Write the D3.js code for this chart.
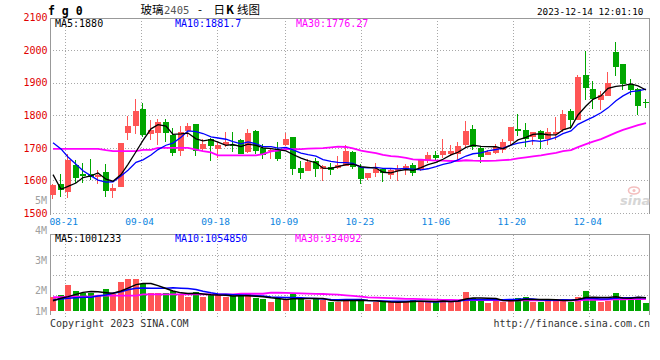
<!DOCTYPE html>
<html><head><meta charset="utf-8">
<script src="https://cdn.jsdelivr.net/npm/d3@7"></script>
<style>body{margin:0;background:#fff}svg{display:block}</style>
</head><body><svg id="c" width="660" height="360"></svg>
<script>
// ---------------- data ----------------
const dates = ["08-17","08-18","08-21","08-22","08-23","08-24","08-25","08-28","08-29","08-30",
"08-31","09-01","09-04","09-05","09-06","09-07","09-08","09-11","09-12","09-13",
"09-14","09-15","09-18","09-19","09-20","09-21","09-22","09-25","09-26","09-27",
"09-28","10-09","10-10","10-11","10-12","10-13","10-16","10-17","10-18","10-19",
"10-20","10-23","10-24","10-25","10-26","10-27","10-30","10-31","11-01","11-02",
"11-03","11-06","11-07","11-08","11-09","11-10","11-13","11-14","11-15","11-16",
"11-17","11-20","11-21","11-22","11-23","11-24","11-27","11-28","11-29","11-30",
"12-01","12-04","12-05","12-06","12-07","12-08","12-11","12-12","12-13","12-14"];
const opens = [1556,1589,1566,1648,1620,1619,1611,1626,1568,1581,
1747,1768,1820,1742,1745,1780,1739,1692,1751,1774,
1696,1726,1698,1708,1710,1723,1687,1752,1700,1692,
1697,1708,1733,1639,1629,1660,1635,1641,1638,1644,
1687,1642,1607,1624,1634,1617,1629,1634,1646,1634,
1660,1677,1678,1680,1680,1708,1757,1700,1678,1685,
1695,1722,1759,1756,1733,1753,1727,1744,1756,1814,
1786,1924,1881,1847,1860,1995,1957,1896,1881,1840];
const highs = [1590,1620,1680,1662,1653,1665,1631,1650,1590,1716,
1798,1851,1839,1786,1789,1789,1760,1766,1776,1774,
1728,1731,1719,1750,1750,1726,1757,1754,1711,1697,
1718,1745,1733,1660,1665,1670,1649,1654,1675,1709,
1690,1652,1624,1654,1638,1634,1649,1652,1654,1665,
1687,1692,1726,1708,1719,1783,1769,1706,1695,1711,
1728,1763,1805,1778,1748,1756,1761,1794,1817,1819,
1924,1998,1905,1875,1934,2026,1957,1911,1883,1850];
const lows = [1543,1550,1547,1591,1591,1600,1590,1549,1546,1580,
1723,1742,1732,1724,1709,1718,1676,1674,1732,1676,
1690,1659,1668,1703,1688,1680,1685,1680,1665,1665,
1660,1706,1618,1605,1629,1611,1598,1618,1634,1644,
1634,1588,1601,1611,1595,1603,1598,1618,1613,1629,
1654,1660,1670,1675,1660,1701,1695,1654,1678,1680,
1684,1710,1738,1702,1708,1698,1710,1725,1749,1759,
1786,1847,1820,1817,1860,1922,1878,1861,1800,1822];
const closes = [1587,1571,1664,1609,1614,1611,1618,1568,1577,1716,
1768,1812,1741,1756,1781,1745,1685,1749,1768,1692,
1713,1706,1709,1718,1706,1680,1745,1690,1678,1695,
1665,1726,1634,1622,1656,1634,1643,1632,1646,1689,
1641,1603,1622,1636,1624,1631,1634,1643,1624,1665,
1677,1668,1692,1690,1706,1751,1704,1672,1687,1704,
1718,1763,1751,1727,1748,1728,1748,1748,1805,1786,
1919,1885,1850,1861,1900,1949,1896,1878,1830,1837];
const volumes = [1100000,1220000,1710000,1410000,1300000,1300000,1150000,1510000,1270000,1850000,
2000000,2000000,1760000,1300000,1320000,1300000,1410000,1290000,1140000,1370000,
1140000,1220000,1220000,1110000,1170000,1170000,1250000,1090000,1010000,890000,
1010000,1010000,1250000,1010000,980000,1010000,980000,860000,890000,1020000,
1020000,1020000,780000,860000,860000,860000,940000,900000,980000,900000,
860000,860000,1020000,900000,980000,1380000,1090000,1010000,840000,940000,
900000,980000,1090000,1140000,900000,900000,980000,1020000,980000,900000,
1140000,1430000,1090000,900000,930000,1300000,1140000,1010000,1140000,810000];
// moving-average values at the start of the window (their history lies before the first bar)
const ma5Head = [1618,1573,1582,1592];
const ma10Head = [1716,1697,1672,1650,1630,1614,1601,1595,1596];
const ma30Head = [1697,1697,1697,1697,1697,1697,1697,1693,1690,1690,1690,1690,1694,1694,1700,1700,1700,1700,1700,1695,1690,1686,1677,1677,1677,1677,1677,1677,1681];
const volMa5Head = [940000,1060000,1140000,1250000];
const volMa10Head = [980000,1020000,1060000,1090000,1110000,1110000,1170000,1220000,1300000];
const volMa30Head = [1110000,1110000,1140000,1140000,1140000,1140000,1190000,1190000,1190000,1190000,1190000,1190000,
1250000,1250000,1250000,1250000,1250000,1250000,1250000,1250000,1250000,1250000,1250000,1250000,1250000,1280000,1280000,1280000,1280000];
const priceTicks = [2100,2000,1900,1800,1700,1600,1500];
const volTicks = [5000000,4000000,3000000,2000000,1000000];
const volTickLabels = ["5M","4M","3M","2M","1M"];
const dateTicks = ["08-21","09-04","09-18","10-09","10-23","11-06","11-20","12-04"];
const priceLegend = ["MA5:1880","MA10:1881.7","MA30:1776.27"];
const volLegend = ["MA5:1001233","MA10:1054850","MA30:934092"];
const legendColors = ["#000000","#0000ff","#ff00ff"];
const titleCode = "f g 0";
const timeStamp = "2023-12-14 12:01:10";

// ---------------- layout ----------------
const N = dates.length;
const L = 50, R = 650;
const mono = "'DejaVu Sans Mono', monospace";
const svg = d3.select("#c");
const UP = "#ff5555", DOWN = "#00a600", GRID = "#a8a8a8", BORDER = "#999";

const x = d3.scaleBand().domain(d3.range(N)).range([L, R]);
const xg = d3.scalePoint().domain(d3.range(N)).range([L, R]);
const bw = Math.round(x.bandwidth() * 0.8);
const bx = i => Math.round(x(i));
const cx = i => bx(i) + bw / 2;

const y = d3.scaleLinear().domain([1500, 2100]).range([213, 17.7]);
const pTop = Math.round(y(2100)), pBot = Math.round(y(1500));

const vTop = 235, vBot = 315, vBase = 311;
const yv = d3.scaleLinear().domain([0, 4000000]).range([320, 238]);
const yLab = d3.scaleLinear().domain([1000000, 5000000]).range([320, 200]);

function movingAvg(vals, n, head) {
  return vals.map((v, i) => i < n - 1 ? head[i] : d3.mean(vals.slice(i - n + 1, i + 1)));
}

// ---------------- header ----------------
svg.append("text").attr("x", 48).attr("y", 14.5).attr("font-family", mono)
  .attr("font-weight", "bold").attr("font-size", 11.5).attr("fill", "#000").text(titleCode);
const title = svg.append("text").attr("y", 14).attr("font-family", "'Noto Sans CJK SC', sans-serif")
  .attr("font-size", 11.5).attr("fill", "#000");
title.append("tspan").attr("x", 140.5).text("玻璃");
title.append("tspan").attr("x", 164).attr("fill", "#555").attr("font-family", mono).attr("font-size", 10.5).text("2405");
title.append("tspan").attr("x", 198).text("-");
title.append("tspan").attr("x", 213.5).text("日");
title.append("tspan").attr("x", 226).attr("font-weight", "bold").text("K");
title.append("tspan").attr("x", 237).text("线图");
svg.append("text").attr("x", 537).attr("y", 15).attr("font-family", mono).attr("font-size", 9.3)
  .attr("fill", "#000").text(timeStamp);

// ---------------- price panel grid ----------------
const g = svg.append("g").attr("shape-rendering", "crispEdges");
priceTicks.slice(1).forEach(t => {
  const yy = Math.round(y(t)) + 0.5;
  g.append("line").attr("x1", L).attr("x2", R - 1).attr("y1", yy).attr("y2", yy)
    .attr("stroke", GRID).attr("stroke-dasharray", "1,2");
});
dateTicks.forEach(d => {
  const xx = Math.round(xg(dates.indexOf(d))) + 0.5;
  g.append("line").attr("x1", xx).attr("x2", xx).attr("y1", pTop).attr("y2", pBot)
    .attr("stroke", GRID).attr("stroke-dasharray", "1,2");
  g.append("line").attr("x1", xx).attr("x2", xx).attr("y1", vTop).attr("y2", 319)
    .attr("stroke", GRID).attr("stroke-dasharray", "1,2");
});
// borders
g.append("line").attr("x1", L).attr("x2", R).attr("y1", pTop + 0.5).attr("y2", pTop + 0.5).attr("stroke", BORDER);
g.append("line").attr("x1", L + 0.5).attr("x2", L + 0.5).attr("y1", pTop).attr("y2", pBot + 2).attr("stroke", BORDER).attr("stroke-width", 1);
g.append("line").attr("x1", R - 0.5).attr("x2", R - 0.5).attr("y1", pTop).attr("y2", pBot + 1).attr("stroke", BORDER);

// price labels
priceTicks.forEach(t => {
  svg.append("text").attr("x", 47.5).attr("y", y(t)).attr("dy", "0.36em").attr("text-anchor", "end")
    .attr("font-family", mono).attr("font-size", 10).attr("fill", "#e00000").text(t);
});
// date labels
dateTicks.forEach(d => {
  svg.append("text").attr("x", xg(dates.indexOf(d)) - 1.5).attr("y", 225).attr("text-anchor", "middle")
    .attr("font-family", mono).attr("font-size", 9.5).attr("fill", "#0a84e0").text(d);
});

// watermark
const wm = svg.append("g").attr("opacity", 0.9);
wm.append("ellipse").attr("cx", 634).attr("cy", 190.5).attr("rx", 5.5).attr("ry", 3.5)
  .attr("fill", "none").attr("stroke", "#f3b8b8").attr("stroke-width", 1.6);
wm.append("circle").attr("cx", 634).attr("cy", 190.5).attr("r", 1.5).attr("fill", "#f3b8b8");
wm.append("text").attr("x", 620).attr("y", 205).attr("font-family", "'DejaVu Sans', sans-serif")
  .attr("font-style", "italic").attr("font-weight", "bold").attr("font-size", 13)
  .attr("fill", "#d2d2d2").text("sina");

// ---------------- candles ----------------
const cg = svg.append("g").attr("shape-rendering", "crispEdges");
d3.range(N).forEach(i => {
  const up = closes[i] >= opens[i];
  const col = up ? UP : DOWN;
  const yT = Math.round(y(Math.max(opens[i], closes[i])));
  const yB = Math.round(y(Math.min(opens[i], closes[i])));
  cg.append("rect").attr("x", bx(i) + 2).attr("width", 1)
    .attr("y", Math.round(y(highs[i]))).attr("height", Math.max(1, Math.round(y(lows[i])) - Math.round(y(highs[i]))))
    .attr("fill", col);
  cg.append("rect").attr("x", bx(i)).attr("width", bw).attr("y", yT).attr("height", Math.max(1, yB - yT))
    .attr("fill", col);
});

// MA lines
const ma5 = movingAvg(closes, 5, ma5Head);
const ma10 = movingAvg(closes, 10, ma10Head);
const ma30 = movingAvg(closes, 30, ma30Head);
const pline = d3.line().x((d, i) => cx(i)).y(d => y(d));
[[ma30, "#ff00ff", 1.8], [ma10, "#0000ff", 1.3], [ma5, "#000000", 1.3]].forEach(([s, c, w]) => {
  svg.append("path").attr("d", pline(s)).attr("fill", "none").attr("stroke", c).attr("stroke-width", w);
});

// price legend
[55, 175, 296].forEach((xx, k) => {
  svg.append("text").attr("x", xx).attr("y", 27).attr("font-family", mono).attr("font-size", 10)
    .attr("fill", legendColors[k]).text(priceLegend[k]);
});

// ---------------- volume panel ----------------
const vg = svg.append("g").attr("shape-rendering", "crispEdges");
[1, 2, 3].forEach(k => {
  const yy = vTop + k * (vBot - vTop) / 4 + 0.5;
  vg.append("line").attr("x1", L).attr("x2", R - 1).attr("y1", yy).attr("y2", yy)
    .attr("stroke", GRID).attr("stroke-dasharray", "1,2");
});
vg.append("line").attr("x1", L).attr("x2", R).attr("y1", vTop - 0.5).attr("y2", vTop - 0.5).attr("stroke", BORDER);
vg.append("line").attr("x1", L + 0.5).attr("x2", L + 0.5).attr("y1", vTop - 1).attr("y2", vBot).attr("stroke", BORDER);
vg.append("line").attr("x1", R - 0.5).attr("x2", R - 0.5).attr("y1", vTop - 1).attr("y2", vBot).attr("stroke", BORDER);

volTicks.forEach((v, k) => {
  svg.append("text").attr("x", 47).attr("y", Math.min(yLab(v), vBase)).attr("dy", "0.36em")
    .attr("text-anchor", "end").attr("font-family", mono).attr("font-size", 10)
    .attr("fill", "#a0a0a0").text(volTickLabels[k]);
});

d3.range(N).forEach(i => {
  const up = closes[i] >= opens[i];
  const yt = Math.round(yv(volumes[i]));
  vg.append("rect").attr("x", bx(i)).attr("width", bw).attr("y", yt).attr("height", vBase - yt)
    .attr("fill", up ? UP : DOWN);
});

const vma5 = movingAvg(volumes, 5, volMa5Head);
const vma10 = movingAvg(volumes, 10, volMa10Head);
const vma30 = movingAvg(volumes, 30, volMa30Head);
const vline = d3.line().x((d, i) => cx(i)).y(d => yv(d));
[[vma30, "#ff00ff", 1.8], [vma10, "#0000ff", 1.5], [vma5, "#000000", 1.5]].forEach(([s, c, w]) => {
  svg.append("path").attr("d", vline(s)).attr("fill", "none").attr("stroke", c).attr("stroke-width", w);
});

[55, 175, 295].forEach((xx, k) => {
  svg.append("text").attr("x", xx).attr("y", 242).attr("font-family", mono).attr("font-size", 10)
    .attr("fill", legendColors[k]).text(volLegend[k]);
});

// footer
svg.append("text").attr("x", 50).attr("y", 327).attr("font-family", mono).attr("font-size", 10)
  .attr("fill", "#333").text("Copyright 2023 SINA.COM");
svg.append("text").attr("x", 650).attr("y", 327).attr("text-anchor", "end").attr("font-family", mono)
  .attr("font-size", 10).attr("fill", "#333").text("http://finance.sina.com.cn");
</script></body></html>
